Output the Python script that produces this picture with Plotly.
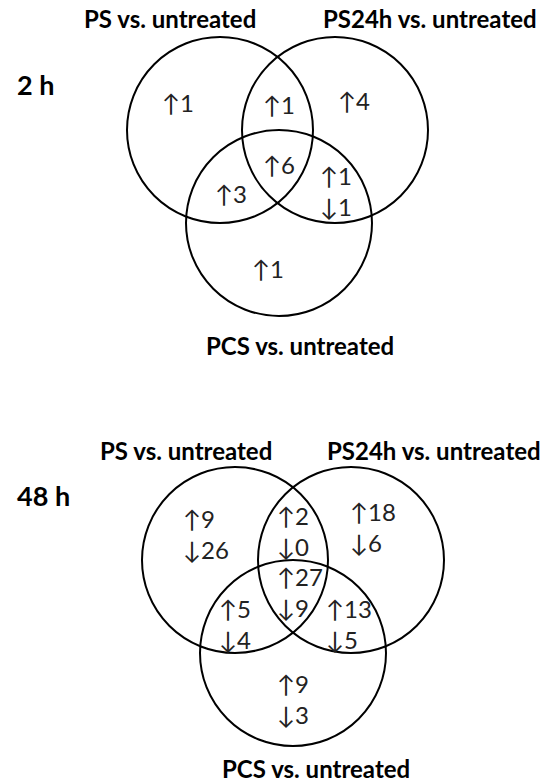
import plotly.graph_objects as go

# ---------------- data ----------------
panel_titles = ["2 h", "48 h"]
set_names = ["PS vs. untreated", "PS24h vs. untreated", "PCS vs. untreated"]
regions = ["PS only", "PS & PS24h", "PS24h only", "PS & PS24h & PCS",
           "PS & PCS", "PS24h & PCS", "PCS only"]
up_2h = [1, 1, 4, 6, 3, 1, 1]
down_2h = [None, None, None, None, None, 1, None]
up_48h = [9, 2, 18, 27, 5, 13, 9]
down_48h = [26, 0, 6, 9, 4, 5, 3]

# ---------------- layout (pixel space) ----------------
W, H = 548, 783
R = 93
panels = [
    dict(circles=[(220, 130), (335, 130), (279, 223)],
         title=(35, 84),
         names=[(170, 18), (430, 18), (300, 345)],
         text=[(160, 102), (261, 104), (336, 100), (261, 164),
               (213, 193), (318, 191), (250, 268)],
         up=up_2h, down=down_2h),
    dict(circles=[(235, 560), (351, 560), (293, 653)],
         title=(43, 495),
         names=[(186, 450), (434, 450), (316, 768)],
         text=[(181, 534), (275, 531), (348, 527), (275, 592),
               (217, 624), (324, 624), (275, 699)],
         up=up_48h, down=down_48h),
]

LABEL_FONT = dict(family="Lato, DejaVu Sans, sans-serif", size=24, color="black")
NUM_FONT = dict(family="Lato, DejaVu Sans, sans-serif", size=24, color="#222222")

fig = go.Figure()
# invisible trace to establish the axes
fig.add_trace(go.Scatter(x=[0, W], y=[0, H], mode="markers",
                         marker=dict(opacity=0), hoverinfo="skip",
                         showlegend=False))

shapes = []
annotations = []
for p, title in zip(panels, panel_titles):
    for (cx, cy) in p["circles"]:
        shapes.append(dict(type="circle", xref="x", yref="y",
                           x0=cx - R, x1=cx + R, y0=cy - R, y1=cy + R,
                           line=dict(color="black", width=2)))
    annotations.append(dict(x=p["title"][0], y=p["title"][1], text=f"<b>{title}</b>",
                            xref="x", yref="y", showarrow=False, xanchor="center",
                            font=dict(LABEL_FONT, size=27)))
    for (nx, ny), name in zip(p["names"], set_names):
        annotations.append(dict(x=nx, y=ny, text=f"<b>{name}</b>",
                                xref="x", yref="y", showarrow=False,
                                xanchor="center", font=LABEL_FONT))
    for (tx, ty), u, d in zip(p["text"], p["up"], p["down"]):
        lines = []
        if u is not None:
            lines.append(f"↑{u}")
        if d is not None:
            lines.append(f"↓{d}")
        annotations.append(dict(x=tx, y=ty, text="<br>".join(lines),
                                xref="x", yref="y", showarrow=False,
                                xanchor="left", align="left", font=NUM_FONT))

fig.update_layout(
    width=W, height=H,
    margin=dict(l=0, r=0, t=0, b=0),
    paper_bgcolor="white", plot_bgcolor="white",
    shapes=shapes, annotations=annotations,
    xaxis=dict(range=[0, W], visible=False, fixedrange=True),
    yaxis=dict(range=[H, 0], visible=False, fixedrange=True),
    showlegend=False,
    hovermode=False,
)

fig.write_html(
    "out.html",
    config={"displayModeBar": False, "staticPlot": True},
    post_script="document.body.style.margin='0';document.body.style.padding='0';",
)
